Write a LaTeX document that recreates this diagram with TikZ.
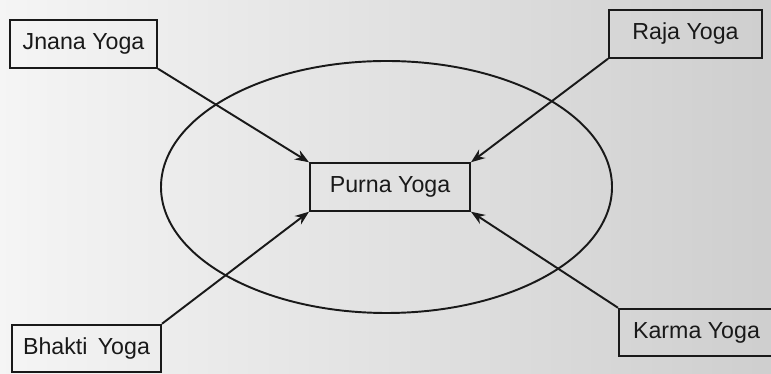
\documentclass[tikz,border=0pt]{standalone}
\usepackage{fontspec}
\setmainfont{Liberation Sans}
\usepackage{tikz}
\usetikzlibrary{arrows.meta,positioning,calc}

\tikzset{
  yogabox/.style={draw, line width=1.1pt, inner sep=0pt, minimum height=0.95cm,
    font=\fontsize{13.2}{15}\selectfont, text=black!90},
  yogaarrow/.style={line width=1.1pt, -{Stealth[length=8pt,width=6pt]}}
}

\begin{document}
\begin{tikzpicture}[>=stealth, draw=black!90]

\shade[left color=gray!8, right color=gray!38, draw=none] (0,0) rectangle (15.42,7.48);
\useasboundingbox (0,0) rectangle (15.42,7.48);

% the big ellipse
\draw[line width=1.1pt] (7.73,3.74) ellipse (4.51cm and 2.52cm);

\node[yogabox, minimum width=3.2cm] (purna) at (7.8,3.74) {Purna Yoga};

\node[yogabox, minimum width=2.94cm] (jnana) at (1.67,6.6) {Jnana Yoga};
\node[yogabox, minimum width=3.06cm] (raja) at (13.71,6.8) {Raja Yoga};
\node[yogabox, minimum width=2.98cm] (bhakti) at (1.73,0.51) {Bhakti\, Yoga};
\node[yogabox, minimum width=3.1cm] (karma) at (13.93,0.83) {Karma Yoga};

\draw[yogaarrow] (jnana.south east) -- (purna.north west);
\draw[yogaarrow] (raja.south west) -- (purna.north east);
\draw[yogaarrow] (bhakti.north east) -- (purna.south west);
\draw[yogaarrow] (karma.north west) -- (purna.south east);

\end{tikzpicture}
\end{document}
